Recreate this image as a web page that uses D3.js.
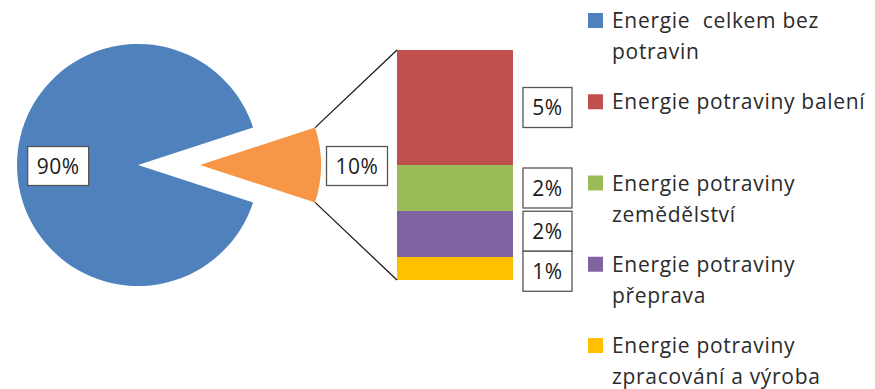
<!DOCTYPE html>
<html>
<head>
<meta charset="utf-8">
<script src="https://cdn.jsdelivr.net/npm/d3@7"></script>
<style>
  body { margin: 0; background: #fff; }
  text { font-family: "Open Sans", sans-serif; }
</style>
</head>
<body>
<svg id="chart"></svg>
<script>
// pie: everything else vs. food energy (exploded)
const pieCategories = ['Energie celkem bez potravin', 'Energie potraviny']
const pieValues = [90, 10]
const pieColors = ['#4f81bd', '#f79646']

// bar of pie: breakdown of the 10% food energy, top to bottom
const barCategories = ['Energie potraviny balení', 'Energie potraviny zemědělství',
  'Energie potraviny přeprava', 'Energie potraviny zpracování a výroba']
const barValues = [5, 2, 2, 1]
const barColors = ['#c0504d', '#9bbb59', '#8064a2', '#ffc000']

// legend text, split the way it wraps in the picture
const legendLines = [
  ['Energie  celkem bez', 'potravin'],
  ['Energie potraviny balení'],
  ['Energie potraviny', 'zemědělství'],
  ['Energie potraviny', 'přeprava'],
  ['Energie potraviny', 'zpracování a výroba']
]
const legendColors = [pieColors[0]].concat(barColors)

const width = 875
const height = 389
const fmt = d3.format('.0%')

const svg = d3.select('#chart')
  .attr('width', width)
  .attr('height', height)

// ---- pie ----
const cx = 138, cy = 165, r = 121
const explode = 62

let pie = d3.pie()
  .sort(null)
  .value(d => d)
  .startAngle(0.6 * Math.PI)
  .endAngle(2.6 * Math.PI)
let slices = pie(pieValues)

let arc = d3.arc().innerRadius(0).outerRadius(r)

const mid = d => (d.startAngle + d.endAngle) / 2
const offset = (d, i) => i == 1 ? explode : 0

let pieG = svg.append('g').attr('transform', `translate(${cx}, ${cy})`)

pieG.selectAll('path')
  .data(slices)
  .enter()
  .append('path')
  .attr('d', arc)
  .attr('fill', (d, i) => pieColors[i])
  .attr('transform', (d, i) => {
    let o = offset(d, i)
    return `translate(${o * Math.sin(mid(d))}, ${-o * Math.cos(mid(d))})`
  })

// ---- stacked bar ----
const barX = 397, barW = 116
let y = d3.scaleLinear()
  .domain([0, d3.sum(barValues)])
  .range([280, 50])

// stack from the bottom up (last category sits at the bottom)
let bottoms = []
let acc = 0
for (let i = barValues.length - 1; i >= 0; i--) {
  bottoms[i] = acc
  acc += barValues[i]
}

svg.selectAll('rect.seg')
  .data(barValues)
  .enter()
  .append('rect')
  .attr('class', 'seg')
  .attr('x', barX)
  .attr('width', barW)
  .attr('y', (d, i) => y(bottoms[i] + d))
  .attr('height', (d, i) => y(bottoms[i]) - y(bottoms[i] + d))
  .attr('fill', (d, i) => barColors[i])

// connector lines from the exploded slice to the bar
let food = slices[1]
let ox = cx + explode * Math.sin(mid(food))
let oy = cy - explode * Math.cos(mid(food))
let corners = [
  [food.startAngle, y(acc)],
  [food.endAngle, y(0)]
]
svg.selectAll('line.conn')
  .data(corners)
  .enter()
  .append('line')
  .attr('class', 'conn')
  .attr('x1', d => ox + r * Math.sin(d[0]))
  .attr('y1', d => oy - r * Math.cos(d[0]))
  .attr('x2', barX)
  .attr('y2', d => d[1])
  .attr('stroke', '#111')
  .attr('stroke-width', 1.2)

// ---- data labels (boxed) ----
function boxLabel(x, yc, w, h, txt) {
  let g = svg.append('g')
  g.append('rect')
    .attr('x', x - w / 2).attr('y', yc - h / 2)
    .attr('width', w).attr('height', h)
    .attr('fill', '#fff')
    .attr('stroke', '#555')
    .attr('stroke-width', 1.3)
  g.append('text')
    .attr('x', x).attr('y', yc)
    .attr('dy', '0.36em')
    .attr('text-anchor', 'middle')
    .style('font-size', '21px')
    .style('letter-spacing', '0.5px')
    .attr('fill', '#1a1a1a')
    .text(txt)
}

let total = d3.sum(pieValues)
slices.forEach((d, i) => {
  let rr = i == 0 ? r * 0.66 : r + 36
  let o = offset(d, i)
  let lx = cx + (o + rr) * Math.sin(mid(d))
  let ly = cy - (o + rr) * Math.cos(mid(d)) + 1
  boxLabel(lx, ly, 61, 39, fmt(d.value / total))
})

// bar labels: centre on the segment, spread any that overlap
const boxH = 40
let centres = barValues.map((d, i) => (y(bottoms[i]) + y(bottoms[i] + d)) / 2)
for (let i = 0; i < centres.length - 1; i++) {
  if (centres[i + 1] - centres[i] < boxH) {
    let m = (centres[i] + centres[i + 1]) / 2
    centres[i] = m - boxH / 2
    centres[i + 1] = m + boxH / 2
  }
}
barValues.forEach((d, i) => {
  boxLabel(barX + barW + 10 + 24.5, centres[i], 49, boxH, fmt(d / total))
})

// ---- legend ----
let legend = svg.append('g')
legendLines.forEach((lines, i) => {
  let base = 28 + i * 81.25
  legend.append('rect')
    .attr('x', 588).attr('y', base - 15)
    .attr('width', 15).attr('height', 15)
    .attr('fill', legendColors[i])
  let t = legend.append('text')
    .attr('x', 612).attr('y', base)
    .style('font-size', '21px')
    .style('letter-spacing', '0.7px')
    .style('white-space', 'pre')
    .attr('fill', '#2b2b2b')
  lines.forEach((l, j) => {
    t.append('tspan')
      .attr('x', 612)
      .attr('dy', j == 0 ? 0 : 31)
      .text(l)
  })
})
</script>
</body>
</html>
